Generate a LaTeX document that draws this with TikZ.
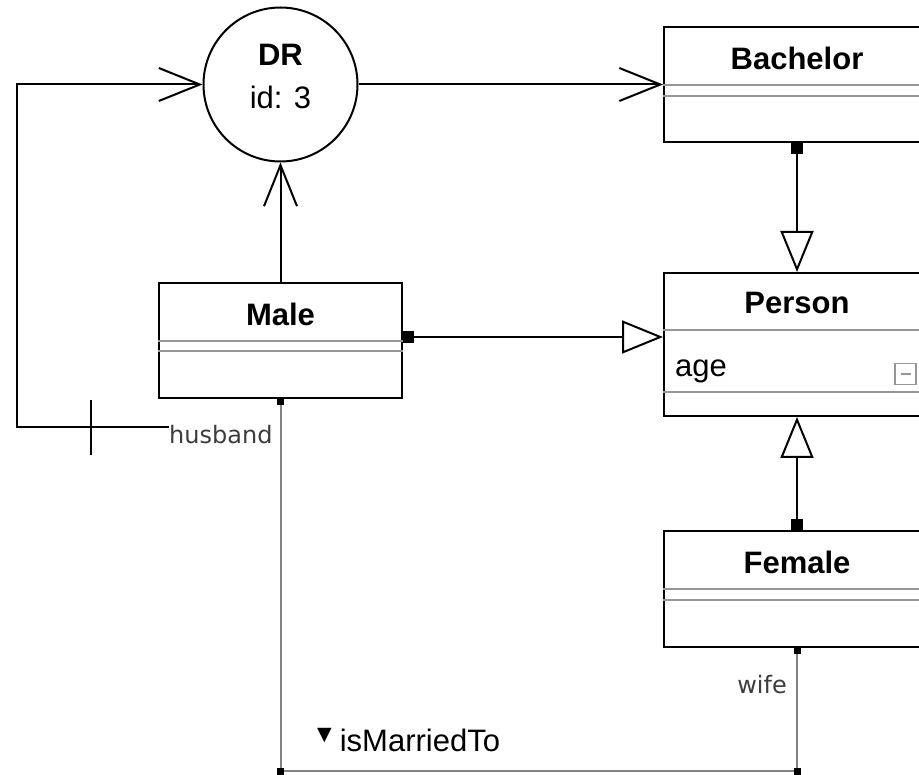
\documentclass[tikz,border=0pt]{standalone}
\usepackage{fontspec}
\setmainfont{Liberation Sans}
\newfontfamily\rolefont{DejaVu Sans}
\usetikzlibrary{shapes.geometric, arrows.meta, positioning}

\definecolor{compgray}{RGB}{150,150,150}
\definecolor{assocgray}{RGB}{130,130,130}
\definecolor{rolegray}{RGB}{60,60,60}

\tikzstyle{classbox} = [
    rectangle,
    minimum width=266pt,
    minimum height=115pt,
    inner sep=0pt,
    line width=2pt,
    draw=black
]
\tikzstyle{roundnode} = [
    circle,
    minimum size=154pt,
    inner sep=0pt,
    line width=2pt,
    draw=black
]
\tikzstyle{classname} = [font=\fontsize{31}{36}\selectfont\bfseries]
\tikzstyle{plaintext} = [font=\fontsize{31}{36}\selectfont]
\tikzstyle{rolename} = [
    font=\rolefont\fontsize{24}{28}\selectfont,
    text=rolegray,
    inner sep=0pt
]
\tikzstyle{compline} = [line width=2pt, draw=compgray]
\tikzstyle{navarrow} = [line width=2pt, -{Straight Barb[length=41pt,width=33pt]}]
\tikzstyle{inherit} = [
    line width=2pt,
    {Square[length=11pt,width=12pt]}-{Triangle[open,length=41pt,width=33pt]}
]
\tikzstyle{assocline} = [
    line width=2pt,
    draw=assocgray,
    {Square[length=6pt,width=7pt,black]}-{Square[length=6pt,width=7pt,black]}
]

\begin{document}
\begin{tikzpicture}[x=1pt, y=1pt, node distance=260pt]
\clip (0,0) rectangle (919,-775);

% classes
\node (bachelor) [classbox] at (797,-84.5) {};
\node (person) [classbox, minimum height=143pt, below of=bachelor] {};
\node (female) [classbox, minimum height=116pt, below of=person, yshift=15.5pt] {};
\node (male) [classbox, minimum width=243pt, left of=person, xshift=-256.5pt, yshift=4pt] {};
\node (dr) [roundnode, above of=male, yshift=-4pt] {};

\node (bachelorname) [classname] at ([yshift=-32pt]bachelor.north) {Bachelor};
\node (personname) [classname] at ([yshift=-31pt]person.north) {Person};
\node (femalename) [classname] at ([yshift=-32pt]female.north) {Female};
\node (malename) [classname] at ([yshift=-32pt]male.north) {Male};

\node (drname) [classname] at ([yshift=30pt]dr.center) {DR};
\node (drid) [plaintext] at ([yshift=-13pt]dr.center) {id: 3};

% compartments
\draw [compline] ([yshift=-59pt]bachelor.north west) -- ([yshift=-59pt]bachelor.north east);
\draw [compline] ([yshift=-70pt]bachelor.north west) -- ([yshift=-70pt]bachelor.north east);
\draw [compline] ([yshift=-58pt]person.north west) -- ([yshift=-58pt]person.north east);
\draw [compline] ([yshift=-120pt]person.north west) -- ([yshift=-120pt]person.north east);
\draw [compline] ([yshift=-59pt]female.north west) -- ([yshift=-59pt]female.north east);
\draw [compline] ([yshift=-70pt]female.north west) -- ([yshift=-70pt]female.north east);
\draw [compline] ([yshift=-59pt]male.north west) -- ([yshift=-59pt]male.north east);
\draw [compline] ([yshift=-69pt]male.north west) -- ([yshift=-69pt]male.north east);

\node (personage) [plaintext, anchor=base west, inner sep=0pt]
    at ([xshift=12pt, yshift=-105pt]person.north west) {age};
\node (collapse) [draw=compgray, line width=1.5pt, minimum size=21pt, inner sep=0pt]
    at (905.5,-374) {};
\draw [compline, line width=1.5pt] ([xshift=-5pt]collapse.center) -- ([xshift=5pt]collapse.center);

% generalizations and navigation
\draw [navarrow] (male) -- (dr);
\draw [navarrow] (dr) -- (bachelor);
\draw [inherit] (bachelor) -- (person);
\draw [inherit] (female) -- (person);
\draw [inherit] ([yshift=3.5pt]male.east) -- ([yshift=3.5pt]male.east -| person.west);

% husband role
\node (husband) [rolename, anchor=north west] at (169,-425) {husband};
\coordinate (loopcorner) at (17,-427);
\coordinate (cross) at (91,-427);
\draw [navarrow] ([yshift=-2pt]husband.north west) -- (loopcorner) |- (dr.west);
\draw [line width=2pt] ([yshift=27pt]cross) -- ([yshift=-28pt]cross);

% isMarriedTo association
\coordinate (marriedleft) at (male.south |- 0,-771);
\coordinate (marriedright) at (female.south |- 0,-771);
\draw [assocline] (male.south) -- (marriedleft) -- (marriedright) -- (female.south);
\fill (marriedleft) +(-3.5,-3.5) rectangle +(3.5,3.5);
\fill (marriedright) +(-3.5,-3.5) rectangle +(3.5,3.5);

\node (married) [plaintext, anchor=base west, inner sep=0pt] at (317,-751)
    {\raisebox{11pt}{\rolefont\fontsize{19}{19}\selectfont ▼}\hspace{8pt}isMarriedTo};
\node (wife) [rolename, anchor=north east] at (787,-675) {wife};

\end{tikzpicture}
\end{document}
